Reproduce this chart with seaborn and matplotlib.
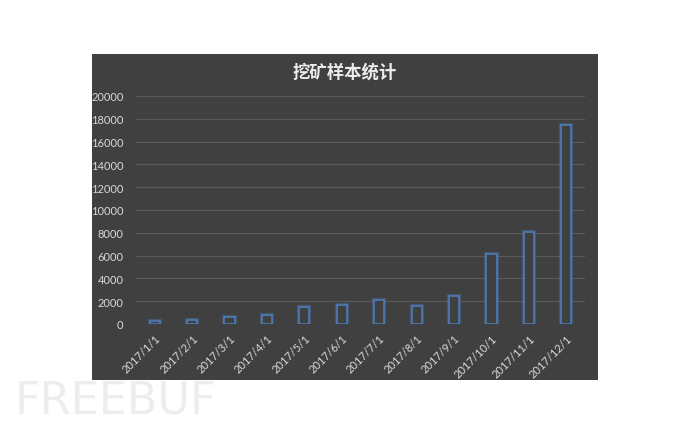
import matplotlib
matplotlib.use("Agg")
import matplotlib.pyplot as plt
from matplotlib.patches import Rectangle
import seaborn as sns

# data
months = ["2017/1/1", "2017/2/1", "2017/3/1", "2017/4/1", "2017/5/1", "2017/6/1",
          "2017/7/1", "2017/8/1", "2017/9/1", "2017/10/1", "2017/11/1", "2017/12/1"]
samples = [220, 350, 600, 800, 1450, 1700, 2130, 1600, 2500, 6150, 8050, 17450]
y_ticks = [0, 2000, 4000, 6000, 8000, 10000, 12000, 14000, 16000, 18000, 20000]
title = "挖矿样本统计"

panel_bg = "#404040"
bar_edge = "#4f7fc0"
text_col = "#d8d8d8"


def main():
    sns.set_theme(style="dark")
    plt.rcParams["font.family"] = ["Lato", "Noto Sans CJK SC", "DejaVu Sans"]

    fig = plt.figure(figsize=(6.9, 4.31), dpi=100)
    fig.patch.set_facecolor("white")

    # dark chart panel sitting on the white page
    fig.patches.append(Rectangle((92 / 690, 1 - 381 / 431), 506 / 690, 326 / 431,
                                 transform=fig.transFigure, facecolor=panel_bg,
                                 edgecolor="none", zorder=-5))

    ax = fig.add_axes([136 / 690, 1 - 325 / 431, 449 / 690, 228 / 431])
    ax.set_facecolor("none")
    ax.set_zorder(2)

    # soft glow under the outline, then the crisp outline
    sns.barplot(x=months, y=samples, width=0.27, color=panel_bg, saturation=1,
                edgecolor=bar_edge, linewidth=3, alpha=0.35, ax=ax)
    sns.barplot(x=months, y=samples, width=0.27, color=panel_bg, saturation=1,
                edgecolor=bar_edge, linewidth=1.1, ax=ax)

    ax.set_xlim(-0.5, len(months) - 0.5)
    ax.set_ylim(0, 20000)
    ax.set_yticks(y_ticks)
    ax.set_yticklabels([str(v) for v in y_ticks], fontsize=8, color=text_col)
    ax.yaxis.grid(True, color="#5a5a5a", linewidth=0.8)
    ax.xaxis.grid(False)
    ax.set_axisbelow(True)
    ax.tick_params(axis="y", length=0, pad=9)
    ax.tick_params(axis="x", length=0, pad=6)
    for lab in ax.get_xticklabels():
        lab.set_rotation(45)
        lab.set_ha("right")
        lab.set_va("top")
        lab.set_rotation_mode("anchor")
        lab.set_fontsize(8)
        lab.set_color(text_col)
    ax.set_xlabel("")
    ax.set_ylabel("")
    for s in ax.spines.values():
        s.set_visible(False)

    fig.text(345 / 690, 1 - 73 / 431, title, ha="center", va="center",
             fontsize=12.5, fontweight="bold", color="#ececec",
             family=["Noto Sans CJK SC", "DejaVu Sans"], zorder=3)

    # page watermark
    fig.text(15 / 690, 1 - 401 / 431, "FREEBUF", ha="left", va="center",
             fontsize=32, color="#eceeec", family="DejaVu Sans", zorder=3)

    plt.savefig("out.png", dpi=100, facecolor="white")


if __name__ == "__main__":
    main()
